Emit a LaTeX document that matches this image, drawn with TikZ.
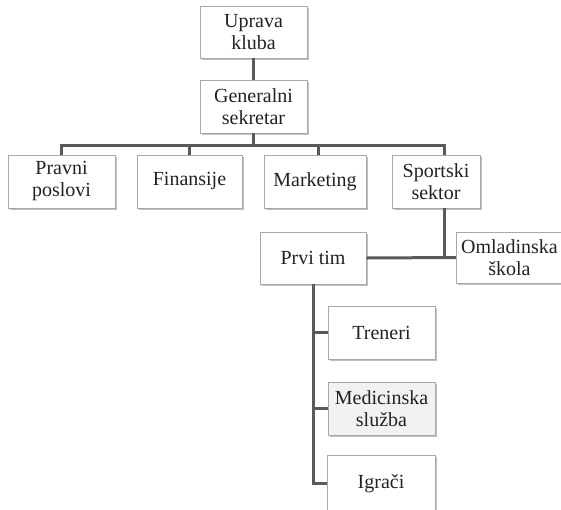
\documentclass[tikz,border=0pt]{standalone}
\usepackage{fontspec}
\setmainfont{Liberation Serif}
\usetikzlibrary{shadows}
\definecolor{linegray}{HTML}{5A5A5A}
\definecolor{boxgray}{HTML}{A8A8A8}
\definecolor{textgray}{HTML}{222222}
\definecolor{medfill}{HTML}{F1F3F1}
\begin{document}
\begin{tikzpicture}[x=1pt,y=1pt,
  orgbox/.style={draw=boxgray, line width=0.8pt, fill=white, align=center,
    text=textgray, inner sep=0pt,
    font=\fontsize{20}{22}\selectfont,
    drop shadow={shadow xshift=1.6pt, shadow yshift=-1.6pt, fill=black, opacity=0.25}},
  conn/.style={draw=linegray, line width=3pt}]
\useasboundingbox (0,0) rectangle (561,-509);
% boxes
\node[orgbox, minimum width=107pt, minimum height=52pt] (uprava) at (253.5,-32) {Uprava\\kluba};
\node[orgbox, minimum width=107pt, minimum height=53pt] (gen) at (253.5,-106.5) {Generalni\\sekretar};
\node[orgbox, minimum width=107pt, minimum height=53pt] (pravni) at (61.5,-181.5) {Pravni\\poslovi};
\node[orgbox, minimum width=105pt, minimum height=53pt] (fin) at (189.5,-181.5) {Finansije};
\node[orgbox, minimum width=102pt, minimum height=53pt] (mark) at (315,-181.5) {Marketing};
\node[orgbox, minimum width=88pt, minimum height=53pt] (sport) at (436,-181.5) {Sportski\\sektor};
\node[orgbox, minimum width=106pt, minimum height=52pt] (prvi) at (313,-258) {Prvi tim};
\node[orgbox, minimum width=107pt, minimum height=51pt] (omlad) at (509.5,-257.5) {Omladinska\\škola};
\node[orgbox, minimum width=107pt, minimum height=53pt] (tren) at (381.5,-332.5) {Treneri};
\node[orgbox, fill=medfill, minimum width=107pt, minimum height=53pt] (med) at (381.5,-408.5) {Medicinska\\služba};
\node[orgbox, minimum width=108pt, minimum height=56pt] (igr) at (381,-483.5) {Igrači};
% connector points
\coordinate (bus) at (253.5,-145);
\coordinate (sporttop) at (444,-155);
\coordinate (sportbot) at (444,-208);
\coordinate (prvibot) at (313,-284);
% connectors
\draw[conn] (uprava.south) -- (gen.north);
\draw[conn] (gen.south) -- (bus);
\draw[conn] (pravni.north) |- (bus) -| (sporttop);
\draw[conn] (bus -| fin.north) -- (fin.north);
\draw[conn] (318,-145) -- (318,-155);
\draw[conn] (sportbot) |- (omlad.west);
\draw[conn] (prvi.east) -- (omlad.west);
\draw[conn] (prvibot) |- (igr.west);
\draw[conn] (prvibot |- tren.west) -- (tren.west);
\draw[conn] (prvibot |- med.west) -- (med.west);
\end{tikzpicture}
\end{document}
